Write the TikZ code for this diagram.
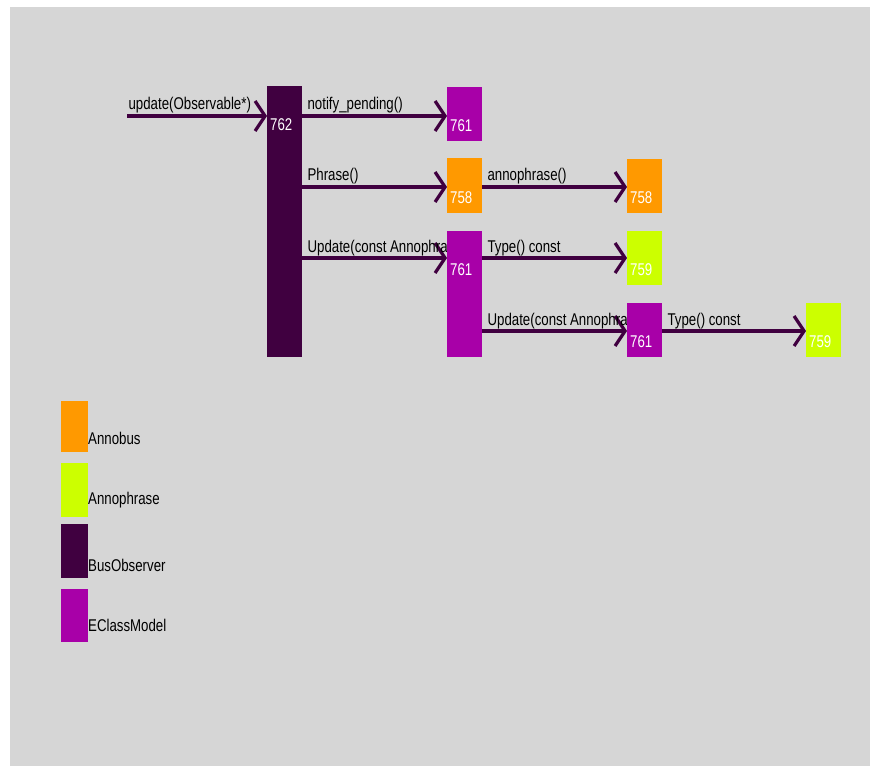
\documentclass[tikz,border=0pt]{standalone}
\usepackage{fontspec}
\newfontfamily\labfont[FakeStretch=0.78]{Liberation Sans}
\usetikzlibrary{arrows.meta,calc}
\pgfdeclarelayer{bg}\pgfdeclarelayer{mid}
\pgfsetlayers{bg,mid,main}
\definecolor{busobs}{HTML}{400040}
\definecolor{eclass}{HTML}{A800A8}
\definecolor{annobus}{HTML}{FF9900}
\definecolor{annophr}{HTML}{CCFF00}
\definecolor{bgc}{HTML}{D6D6D6}
\begin{document}
\begin{tikzpicture}[x=1pt,y=-1pt,
 box/.style={anchor=north west, inner sep=0pt, outer sep=0pt, minimum width=35pt},
 num/.style={anchor=west, text=white, font=\labfont\fontsize{17}{17}\selectfont, inner sep=0pt},
 lab/.style={anchor=base west, font=\labfont\fontsize{17}{17}\selectfont, inner sep=0pt, xshift=4pt, yshift=6pt},
 arr/.style={draw=busobs, line width=3.2pt, -{Straight Barb[length=10pt,width=30pt]}},
 legbox/.style={anchor=north west, inner sep=0pt, outer sep=0pt, minimum width=27pt},
 legtxt/.style={anchor=west, font=\labfont\fontsize{17}{17}\selectfont, inner sep=0pt}]
\useasboundingbox (0,0) rectangle (877,767);
\begin{pgfonlayer}{bg}
\fill[bgc] (10,7) rectangle (870,766);
\end{pgfonlayer}
% boxes
\node[box, fill=busobs, minimum height=271pt] (b762) at (267,86) {};
\node[box, fill=eclass, minimum height=54pt] (b761a) at (447,87) {};
\node[box, fill=annobus, minimum height=55pt] (b758a) at (447,158) {};
\node[box, fill=eclass, minimum height=126pt] (b761b) at (447,231) {};
\node[box, fill=annobus, minimum height=54pt] (b758b) at (627,159) {};
\node[box, fill=annophr, minimum height=54pt] (b759a) at (627,231) {};
\node[box, fill=eclass, minimum height=54pt] (b761c) at (627,303) {};
\node[box, fill=annophr, minimum height=54pt] (b759b) at (806,303) {};
% numbers
\node[num] (n762) at ($(b762.north west)+(3,39)$) {762};
\node[num] (n761a) at ($(b761a.north west)+(3,39)$) {761};
\node[num] (n758a) at ($(b758a.north west)+(3,40)$) {758};
\node[num] (n761b) at ($(b761b.north west)+(3,39)$) {761};
\node[num] (n758b) at ($(b758b.north west)+(3,39)$) {758};
\node[num] (n759a) at ($(b759a.north west)+(3,39)$) {759};
\node[num] (n761c) at ($(b761c.north west)+(3,39)$) {761};
\node[num] (n759b) at ($(b759b.north west)+(3,39)$) {759};
% connectors
\coordinate (s0) at (127,116);
\path ([yshift=-29pt]b761a.north west) coordinate (t1)
      ([yshift=-29pt]b758a.north west) coordinate (t2)
      ([yshift=-27pt]b761b.north west) coordinate (t3)
      ([yshift=-28pt]b758b.north west) coordinate (t4)
      ([yshift=-27pt]b759a.north west) coordinate (t5)
      ([yshift=-28pt]b761c.north west) coordinate (t6)
      ([yshift=-28pt]b759b.north west) coordinate (t7);
\begin{pgfonlayer}{mid}
\draw[arr] (s0) -- node[lab, pos=0, xshift=-4pt] (l0) {update(Observable*)} (b762.west |- s0);
\draw[arr] (b762.east |- t1) -- node[lab, pos=0] (l1) {notify\_pending()} (t1);
\draw[arr] (b762.east |- t2) -- node[lab, pos=0] (l2) {Phrase()} (t2);
\draw[arr] (b762.east |- t3) -- node[lab, pos=0] (l3) {Update(const Annophrase\&)} (t3);
\draw[arr] (b758a.east |- t4) -- node[lab, pos=0] (l4) {annophrase()} (t4);
\draw[arr] (b761b.east |- t5) -- node[lab, pos=0] (l5) {Type() const} (t5);
\draw[arr] (b761b.east |- t6) -- node[lab, pos=0] (l6) {Update(const Annophrase\&)} (t6);
\draw[arr] (b761c.east |- t7) -- node[lab, pos=0] (l7) {Type() const} (t7);
\end{pgfonlayer}
% legend
\node[legbox, fill=annobus, minimum height=51pt] (g1) at (61,401) {};
\node[legbox, fill=annophr, minimum height=54pt] (g2) at (61,463) {};
\node[legbox, fill=busobs, minimum height=54pt] (g3) at (61,524) {};
\node[legbox, fill=eclass, minimum height=53pt] (g4) at (61,589) {};
\node[legtxt] (gt1) at ($(g1.south east)+(0,-14)$) {Annobus};
\node[legtxt] (gt2) at ($(g2.south east)+(0,-17)$) {Annophrase};
\node[legtxt] (gt3) at ($(g3.south east)+(0,-13)$) {BusObserver};
\node[legtxt] (gt4) at ($(g4.south east)+(0,-17)$) {EClassModel};
\end{tikzpicture}
\end{document}
